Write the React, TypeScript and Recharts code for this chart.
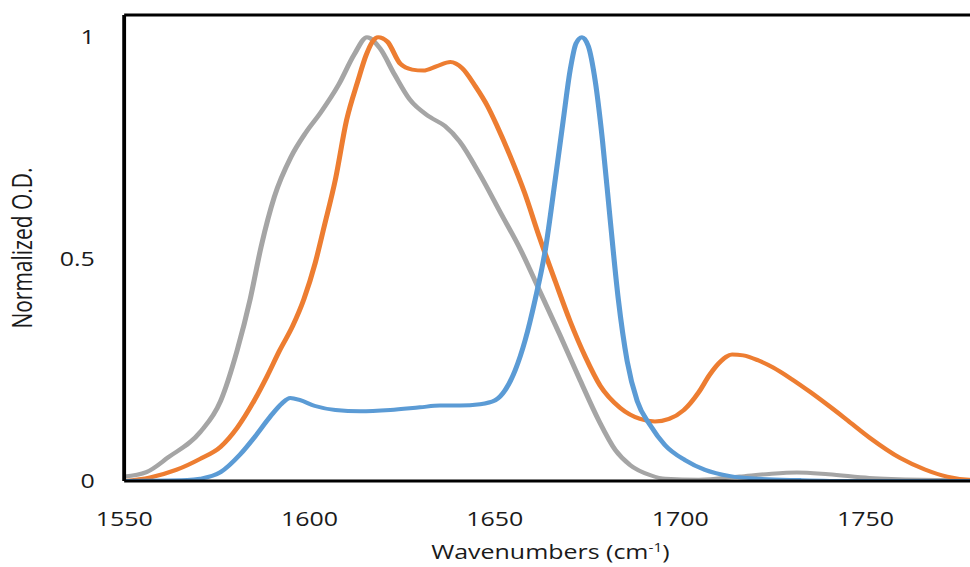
import React from "react";
import { LineChart, Line, XAxis, YAxis, ReferenceLine } from "recharts";

// Wavenumbers (cm-1) and normalized O.D. values
const grayX = [1550, 1556, 1562, 1570.5, 1576, 1580.5, 1584, 1587, 1590.5, 1595, 1599, 1603, 1608, 1612, 1615.5, 1619, 1623, 1627, 1632.5, 1636.5, 1640.5, 1646, 1651.5, 1657, 1662, 1667.5, 1673, 1678, 1682.5, 1686.5, 1692, 1696, 1705, 1716, 1724, 1731.5, 1740, 1751, 1765, 1778, 1800];
const grayY = [0.01, 0.02, 0.054, 0.11, 0.18, 0.295, 0.41, 0.53, 0.64, 0.73, 0.785, 0.83, 0.895, 0.96, 1.0, 0.975, 0.915, 0.86, 0.82, 0.8, 0.765, 0.69, 0.605, 0.52, 0.43, 0.33, 0.227, 0.137, 0.07, 0.036, 0.013, 0.005, 0.003, 0.01, 0.016, 0.019, 0.015, 0.007, 0.003, 0.002, 0.001];

const orangeX = [1550, 1557, 1564, 1570.5, 1576, 1580.5, 1585, 1588.5, 1592, 1595.5, 1598.5, 1601.5, 1604, 1607, 1610, 1613, 1615.3, 1617, 1618.5, 1621, 1624.5, 1627.7, 1630.7, 1634.4, 1638, 1641.2, 1644.7, 1648, 1650.6, 1654, 1658, 1662, 1666.3, 1670.3, 1674.4, 1678.4, 1683.8, 1689.2, 1693.2, 1697, 1701, 1705, 1708, 1711, 1714, 1717, 1721, 1725, 1730, 1735, 1740, 1744.8, 1751.2, 1759.3, 1766, 1772, 1778, 1800];
const orangeY = [0, 0.008, 0.025, 0.05, 0.077, 0.12, 0.18, 0.235, 0.295, 0.35, 0.41, 0.49, 0.575, 0.68, 0.813, 0.9, 0.96, 0.99, 1.0, 0.99, 0.94, 0.927, 0.925, 0.935, 0.944, 0.93, 0.89, 0.845, 0.8, 0.735, 0.65, 0.55, 0.45, 0.36, 0.28, 0.215, 0.165, 0.14, 0.134, 0.14, 0.16, 0.2, 0.24, 0.27, 0.285, 0.283, 0.272, 0.256, 0.23, 0.201, 0.17, 0.139, 0.097, 0.052, 0.026, 0.01, 0.003, 0.0];

const blueX = [1550, 1567, 1570.5, 1576, 1581.3, 1585.3, 1589.4, 1592.6, 1594.8, 1597.5, 1601.5, 1607, 1613.7, 1621.8, 1629.8, 1635.2, 1640.6, 1646, 1650.1, 1652.8, 1655.5, 1658.2, 1660.9, 1663.6, 1666.3, 1668.4, 1670.3, 1671.9, 1673.5, 1675.2, 1677.1, 1679, 1681.1, 1683.3, 1685.7, 1688.4, 1691.9, 1695.9, 1701.3, 1706.7, 1713.5, 1721.6, 1732.4, 1745.8, 1800];
const blueY = [0, 0.002, 0.005, 0.02, 0.06, 0.1, 0.145, 0.175, 0.187, 0.182, 0.169, 0.16, 0.157, 0.16, 0.166, 0.17, 0.17, 0.173, 0.182, 0.205, 0.25, 0.318, 0.41, 0.52, 0.68, 0.81, 0.925, 0.986, 1.0, 0.98, 0.9, 0.77, 0.59, 0.41, 0.27, 0.18, 0.126, 0.081, 0.047, 0.025, 0.011, 0.005, 0.002, 0, 0];

const xTicks = [1550, 1600, 1650, 1700, 1750];
const yTicks = [0, 0.5, 1];

const toPoints = (xs: number[], ys: number[]) => xs.map((x, i) => ({ x, y: ys[i] }));
const grayData = toPoints(grayX, grayY);
const orangeData = toPoints(orangeX, orangeY);
const blueData = toPoints(blueX, blueY);

const FONT = "'Open Sans', 'Noto Sans', sans-serif";
const TEXT = "#1a1a1a";

const XTitle = () => (
  <text x={430} y={559} textAnchor="middle" fontSize={19.5} fontFamily={FONT} fill={TEXT}>
    Wavenumbers (cm
    <tspan dy={-7} fontSize={12}>-1</tspan>
    <tspan dy={7}>)</tspan>
  </text>
);

const YTitle = () => (
  <text
    x={25}
    y={248}
    transform="rotate(-90 25 248)"
    textAnchor="middle"
    fontSize={21}
    fontFamily={FONT}
    fill={TEXT}
  >
    Normalized O.D.
  </text>
);

export default function App() {
  return (
    <div
      style={{
        position: "absolute",
        left: 0,
        top: 0,
        width: 970,
        height: 567,
        overflow: "hidden",
        background: "#fff",
      }}
    >
      <div style={{ width: 830, height: 567, transform: "scaleX(1.28)", transformOrigin: "0 0" }}>
        <LineChart width={830} height={567} margin={{ top: 15, right: 9, bottom: 0, left: 0 }}>
          <XAxis
            dataKey="x"
            type="number"
            domain={[1550, 1800]}
            ticks={xTicks}
            allowDataOverflow
            tickLine={false}
            tickSize={0}
            tickMargin={31}
            height={86}
            axisLine={{ stroke: "#000", strokeWidth: 3 }}
            tick={{ fill: TEXT, fontSize: 19.5, fontFamily: FONT }}
            label={<XTitle />}
          />
          <YAxis
            type="number"
            domain={[0, 1.05]}
            ticks={yTicks}
            allowDataOverflow
            width={97}
            tickLine={false}
            tickSize={0}
            tickMargin={23}
            axisLine={{ stroke: "#000", strokeWidth: 3 }}
            tick={{ fill: TEXT, fontSize: 19.5, fontFamily: FONT }}
            tickFormatter={(v: number) => String(v)}
            label={<YTitle />}
          />
          <ReferenceLine y={1.05} stroke="#000" strokeWidth={3} ifOverflow="visible" />
          <Line data={grayData} dataKey="y" type="monotone" stroke="#A5A5A5" strokeWidth={4} dot={false} isAnimationActive={false} />
          <Line data={orangeData} dataKey="y" type="monotone" stroke="#ED7D31" strokeWidth={4} dot={false} isAnimationActive={false} />
          <Line data={blueData} dataKey="y" type="monotone" stroke="#5B9BD5" strokeWidth={4} dot={false} isAnimationActive={false} />
        </LineChart>
      </div>
    </div>
  );
}
